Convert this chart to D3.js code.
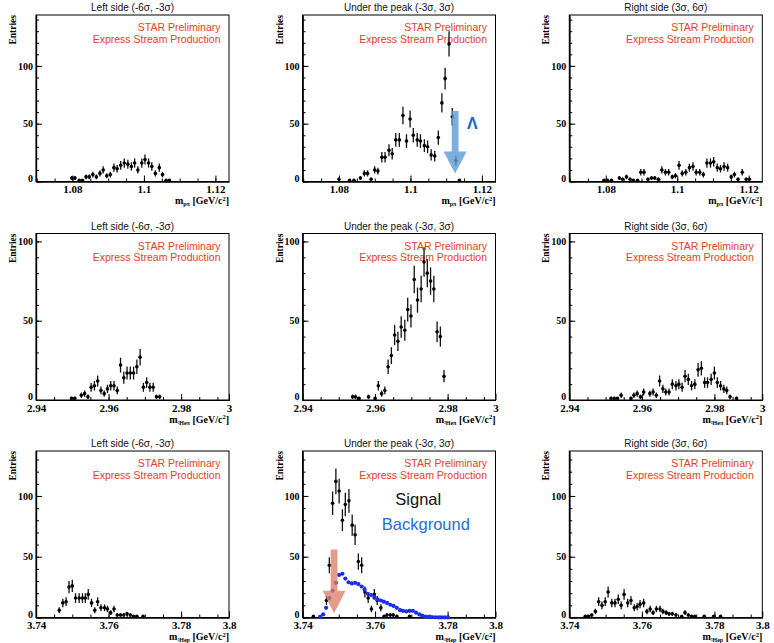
<!DOCTYPE html>
<html>
<head>
<meta charset="utf-8">
<script src="https://cdn.jsdelivr.net/npm/d3@7/dist/d3.min.js"></script>
<style>
  body { margin: 0; background: #fff; }
  svg { display: block; }
</style>
</head>
<body>
<script>
// ---- TEXTS ----
const sideTitles = ["Left side (-6\u03c3, -3\u03c3)", "Under the peak (-3\u03c3, 3\u03c3)", "Right side (3\u03c3, 6\u03c3)"];
const stampLines = ["STAR Preliminary", "Express Stream Production"];

// ---- AXIS TICKS ----
const lambdaTicks = [1.08, 1.1, 1.12];
const h3Ticks = [2.94, 2.96, 2.98];
const li4Ticks = [3.74, 3.76, 3.78];
const entryTicks = [0, 50, 100];

// ---- DATA: [invariant mass (GeV/c^2), entries] ----
const lambdaLeft = [[1.0798,3],[1.0807,3],[1.0819,1],[1.0828,1],[1.0838,4],[1.0847,4],[1.0857,6],[1.0867,4],
  [1.0877,7],[1.0886,10],[1.0896,5],[1.0906,6],[1.0916,12],[1.0925,11],[1.0935,14],[1.0945,16],[1.0955,15],
  [1.0965,13],[1.0974,16],[1.0983,10],[1.0994,16],[1.1003,19],[1.1013,16],[1.1022,13],[1.1032,7],[1.1043,12],
  [1.1052,6],[1.1062,1],[1.1071,1]];
const lambdaPeak = [[1.0800,2],[1.0830,1],[1.0842,1],[1.0860,3],[1.0871,7],[1.0880,7],[1.0890,2],[1.0900,10],
  [1.0909,9],[1.0920,21],[1.0929,21],[1.0940,27],[1.0949,24],[1.0959,36],[1.0969,36],[1.0979,57],[1.0989,35],
  [1.0999,54],[1.1008,40],[1.1019,36],[1.1028,35],[1.1039,31],[1.1048,30],[1.1058,23],[1.1068,22],[1.1078,38],
  [1.1088,68],[1.1097,89],[1.1108,119],[1.1117,56],[1.1127,18],[1.1137,1]];
const lambdaRight = [[1.0795,1],[1.0805,1],[1.0816,1],[1.0838,3],[1.0847,2],[1.0858,4],[1.0868,2],[1.0877,1],
  [1.0889,1],[1.0898,8],[1.0907,8],[1.0918,2],[1.0928,3],[1.0937,3],[1.0947,2],[1.0957,10],[1.0967,8],
  [1.0976,8],[1.0986,4],[1.0995,5],[1.1005,14],[1.1014,7],[1.1024,8],[1.1034,12],[1.1044,13],[1.1053,8],
  [1.1063,8],[1.1073,6],[1.1083,16],[1.1093,16],[1.1102,17],[1.1112,12],[1.1121,11],[1.1131,13],[1.1141,12],
  [1.1151,4],[1.1160,6],[1.1170,2],[1.1182,8],[1.1193,2],[1.1202,2]];

const h3Left = [[2.9498,1],[2.9507,1],[2.9525,3],[2.9534,4],[2.9543,2],[2.9552,8],[2.9561,9],[2.9570,12],
  [2.9579,6],[2.9588,4],[2.9597,7],[2.9606,9],[2.9615,9],[2.9624,6],[2.9633,22],[2.9642,14],[2.9651,17],
  [2.9660,17],[2.9669,17],[2.9678,21],[2.9687,27],[2.9696,8],[2.9705,11],[2.9714,8],[2.9723,8],[2.9732,2],
  [2.9741,2]];
const h3Peak = [[2.9538,2],[2.9546,2],[2.9556,1],[2.9582,2],[2.9600,1],[2.9609,9],[2.9618,4],[2.9627,6],
  [2.9636,21],[2.9645,28],[2.9654,41],[2.9663,37],[2.9672,46],[2.9682,44],[2.9690,57],[2.9699,53],[2.9708,76],
  [2.9717,63],[2.9727,70],[2.9735,87],[2.9744,80],[2.9753,75],[2.9762,70],[2.9771,43],[2.9780,40],[2.9790,15]];
const h3Right = [[2.9515,1],[2.9524,1],[2.9533,1],[2.9543,3],[2.9570,1],[2.9578,3],[2.9587,4],[2.9596,2],
  [2.9605,5],[2.9622,4],[2.9631,5],[2.9640,3],[2.9649,12],[2.9658,7],[2.9666,5],[2.9675,5],[2.9684,10],
  [2.9694,9],[2.9702,10],[2.9711,8],[2.9719,15],[2.9728,13],[2.9737,9],[2.9746,10],[2.9755,19],[2.9764,20],
  [2.9773,11],[2.9781,11],[2.9791,13],[2.9800,17],[2.9808,11],[2.9817,9],[2.9826,7],[2.9834,6],[2.9843,2],
  [2.9861,1]];

const li4Left = [[3.7464,6],[3.7474,12],[3.7483,13],[3.7491,25],[3.7500,26],[3.7509,16],[3.7519,16],[3.7528,16],
  [3.7536,16],[3.7544,19],[3.7553,12],[3.7562,6],[3.7570,13],[3.7579,8],[3.7589,8],[3.7597,7],[3.7606,4],
  [3.7615,7],[3.7624,2],[3.7633,2],[3.7642,2],[3.7651,3],[3.7660,2],[3.7669,1],[3.7678,1],[3.7695,1]];
const li4Peak = [[3.7430,1],[3.7466,14],[3.7474,43],[3.7483,94],[3.7492,112],[3.7501,104],[3.7510,80],
  [3.7518,93],[3.7528,96],[3.7537,76],[3.7545,68],[3.7554,46],[3.7563,43],[3.7572,21],[3.7581,16],[3.7590,7],
  [3.7598,19],[3.7606,14],[3.7616,8],[3.7625,1],[3.7633,2],[3.7642,2],[3.7650,2],[3.7660,1],[3.7695,1]];
const li4Background = [[3.7448,0.5],[3.7457,2.5],[3.7465,8],[3.7474,16],[3.7483,22],[3.7492,28.5],[3.7501,35],
  [3.7510,36],[3.7518,32],[3.7527,29],[3.7536,28],[3.7545,28.5],[3.7554,27.5],[3.7563,25.5],[3.7571,23],
  [3.7580,19.5],[3.7589,18.5],[3.7598,16.5],[3.7607,15],[3.7616,14],[3.7624,13],[3.7633,12],[3.7642,10.5],
  [3.7651,9.5],[3.7660,8],[3.7669,6],[3.7677,5.5],[3.7686,5],[3.7695,5.5],[3.7704,5.5],[3.7713,4],[3.7722,2.5],
  [3.7730,1.5],[3.7739,0.8],[3.7748,0.5],[3.7757,0.3],[3.7766,0.2],[3.7775,0.1],[3.7783,0.1],[3.7792,0.1],
  [3.7801,0.1]];
const li4Right = [[3.7444,1],[3.7453,1],[3.7462,2],[3.7472,5],[3.7481,13],[3.7490,10],[3.7499,13],[3.7507,21],
  [3.7517,12],[3.7526,12],[3.7535,15],[3.7543,10],[3.7551,19],[3.7561,12],[3.7570,14],[3.7579,8],[3.7587,9],
  [3.7595,11],[3.7605,12],[3.7614,5],[3.7623,7],[3.7631,4],[3.7640,7],[3.7650,7],[3.7658,5],[3.7667,4],
  [3.7675,3],[3.7684,3],[3.7694,2],[3.7710,1],[3.7719,4],[3.7728,2],[3.7737,1],[3.7746,1],[3.7772,1],
  [3.7798,1],[3.7817,1]];

// annotations (data coordinates)
const lambdaArrow = { x: 1.1125, top: 61, base: 26, tip: 7 };
const lambdaSymbol = { x: 1.1173, y: 50, text: "\u039b" };
const li4Arrow = { x: 3.7487, top: 56, base: 22, tip: 3.5 };
const li4Legend = [
  { text: "Signal", x: 3.7719, y: 97, color: "#111" },
  { text: "Background", x: 3.7740, y: 77, color: "#1f6fd6" }
];

// ---- LAYOUT ----
const width = 774, height = 643;
const colLeft = [36, 302.5, 569.3];
const rowTop = [15, 233.5, 451];
const pw = 193, ph = 166.5;
const serif = "'Liberation Serif', 'DejaVu Serif', serif";
const sans = "'Liberation Sans', Arial, sans-serif";

const rows = [
  { xDomain: [1.0698, 1.1238], yMax: 144, ticks: lambdaTicks, endLabel: null, sub: "p\u03c0",
    panels: [lambdaLeft, lambdaPeak, lambdaRight] },
  { xDomain: [2.94, 2.9932], yMax: 105, ticks: h3Ticks, endLabel: "3", sub: "\u00b3He\u03c0",
    panels: [h3Left, h3Peak, h3Right] },
  { xDomain: [3.74, 3.7932], yMax: 137, ticks: li4Ticks, endLabel: "3.8", sub: "\u00b3Hep",
    panels: [li4Left, li4Peak, li4Right] }
];

const svg = d3.select('body').append('svg')
  .attr('width', width)
  .attr('height', height);

// arrow shape pointing down, built from scaled points
function arrowPath(x, y, a) {
  const cx = x(a.x), yt = y(a.top), yb = y(a.base), yp = y(a.tip);
  const s = 3.4, h = 11.5;
  return `M${cx - s},${yt} L${cx + s},${yt} L${cx + s},${yb} L${cx + h},${yb} L${cx},${yp} L${cx - h},${yb} L${cx - s},${yb} Z`;
}

rows.forEach((row, r) => {
  row.panels.forEach((pts, c) => {
    const g = svg.append('g')
      .attr('transform', `translate(${colLeft[c]},${rowTop[r]})`);

    const x = d3.scaleLinear().domain(row.xDomain).range([0, pw]);
    const y = d3.scaleLinear().domain([0, row.yMax]).range([ph, 0]);

    // panel title
    g.append('text')
      .attr('x', pw / 2).attr('y', -4)
      .attr('text-anchor', 'middle')
      .attr('font-family', sans).attr('font-size', 10)
      .attr('fill', '#111')
      .text(sideTitles[c]);

    // y axis: major + minor ticks pointing inside
    const yMajor = g.append('g')
      .call(d3.axisLeft(y).tickValues(entryTicks).tickSize(-6).tickSizeOuter(0).tickPadding(3)
        .tickFormat(d3.format('d')));
    g.append('g')
      .call(d3.axisLeft(y).tickValues(d3.range(10, row.yMax, 10)).tickSize(-3).tickSizeOuter(0).tickFormat(''));

    // x axis: major + minor ticks
    let xVals = row.ticks.slice();
    if (row.endLabel) xVals.push(row.xDomain[1]);
    const xMajor = g.append('g')
      .attr('transform', `translate(0,${ph})`)
      .call(d3.axisBottom(x).tickValues(xVals).tickSize(-6).tickSizeOuter(0).tickPadding(4)
        .tickFormat(d => d === row.xDomain[1] ? row.endLabel : String(d)));
    const minor = d3.range(row.ticks[0] - 0.01, row.xDomain[1], 0.005)
      .filter(v => v > row.xDomain[0] && v < row.xDomain[1]);
    g.append('g')
      .attr('transform', `translate(0,${ph})`)
      .call(d3.axisBottom(x).tickValues(minor).tickSize(-3).tickSizeOuter(0).tickFormat(''));

    yMajor.selectAll('text')
      .attr('font-family', serif).attr('font-weight', 'bold').attr('font-size', 10).attr('fill', '#000')
      .attr('dy', d => d === 0 ? '-0.05em' : '0.32em');
    xMajor.selectAll('text')
      .attr('font-family', serif).attr('font-weight', 'bold').attr('font-size', 11).attr('fill', '#000');
    g.selectAll('.tick line').attr('stroke', '#000').attr('stroke-width', 1);
    g.selectAll('.domain').attr('stroke', '#000').attr('stroke-width', 1.2);

    // frame
    g.append('rect')
      .attr('width', pw).attr('height', ph)
      .attr('fill', 'none').attr('stroke', '#000').attr('stroke-width', 1);

    // axis titles
    g.append('text')
      .attr('transform', 'translate(-20,0) rotate(-90)')
      .attr('text-anchor', 'end')
      .attr('font-family', serif).attr('font-weight', 'bold').attr('font-size', 9.5)
      .text('Entries');

    const xt = g.append('text')
      .attr('x', pw).attr('y', ph + 22.5)
      .attr('text-anchor', 'end')
      .attr('font-family', serif).attr('font-weight', 'bold').attr('font-size', 10);
    xt.append('tspan').text('m');
    xt.append('tspan').attr('font-size', 6).attr('dy', 2).text(row.sub);
    xt.append('tspan').attr('dy', -2).text(' [GeV/c');
    xt.append('tspan').attr('font-size', 6.5).attr('dy', -3.5).text('2');
    xt.append('tspan').attr('dy', 3.5).text(']');

    // STAR stamp
    stampLines.forEach((line, i) => {
      g.append('text')
        .attr('x', pw - 8.5).attr('y', 16 + i * 11.5)
        .attr('text-anchor', 'end')
        .attr('font-family', sans).attr('font-size', 10.5)
        .attr('fill', '#e2412b')
        .text(line);
    });

    // data points with sqrt(N) error bars
    const pg = g.append('g');
    pg.selectAll('line.err').data(pts).enter().append('line')
      .attr('x1', d => x(d[0])).attr('x2', d => x(d[0]))
      .attr('y1', d => y(d[1] + Math.sqrt(d[1])))
      .attr('y2', d => y(Math.max(0, d[1] - Math.sqrt(d[1]))))
      .attr('stroke', '#111').attr('stroke-width', 1.3);
    pg.selectAll('circle').data(pts).enter().append('circle')
      .attr('cx', d => x(d[0])).attr('cy', d => y(d[1]))
      .attr('r', 1.8).attr('fill', '#000');

    // extras
    if (r === 0 && c === 1) {
      g.append('path').attr('d', arrowPath(x, y, lambdaArrow))
        .attr('fill', '#5b9ad8').attr('opacity', 0.8);
      g.append('text')
        .attr('x', x(lambdaSymbol.x)).attr('y', y(lambdaSymbol.y))
        .attr('dy', '0.35em').attr('text-anchor', 'middle')
        .attr('font-family', sans).attr('font-weight', 'bold').attr('font-size', 16)
        .attr('fill', '#1565c8')
        .text(lambdaSymbol.text);
    }
    if (r === 2 && c === 1) {
      g.append('g').selectAll('circle').data(li4Background).enter().append('circle')
        .attr('cx', d => x(d[0])).attr('cy', d => y(d[1]))
        .attr('r', 2.1).attr('fill', '#1a2cf0');
      g.append('path').attr('d', arrowPath(x, y, li4Arrow))
        .attr('fill', '#dc7a66').attr('opacity', 0.75);
      li4Legend.forEach(item => {
        g.append('text')
          .attr('x', x(item.x)).attr('y', y(item.y))
          .attr('dy', '0.35em').attr('text-anchor', 'middle')
          .attr('font-family', sans).attr('font-size', 16.5)
          .attr('fill', item.color)
          .text(item.text);
      });
    }
  });
});
</script>
</body>
</html>
